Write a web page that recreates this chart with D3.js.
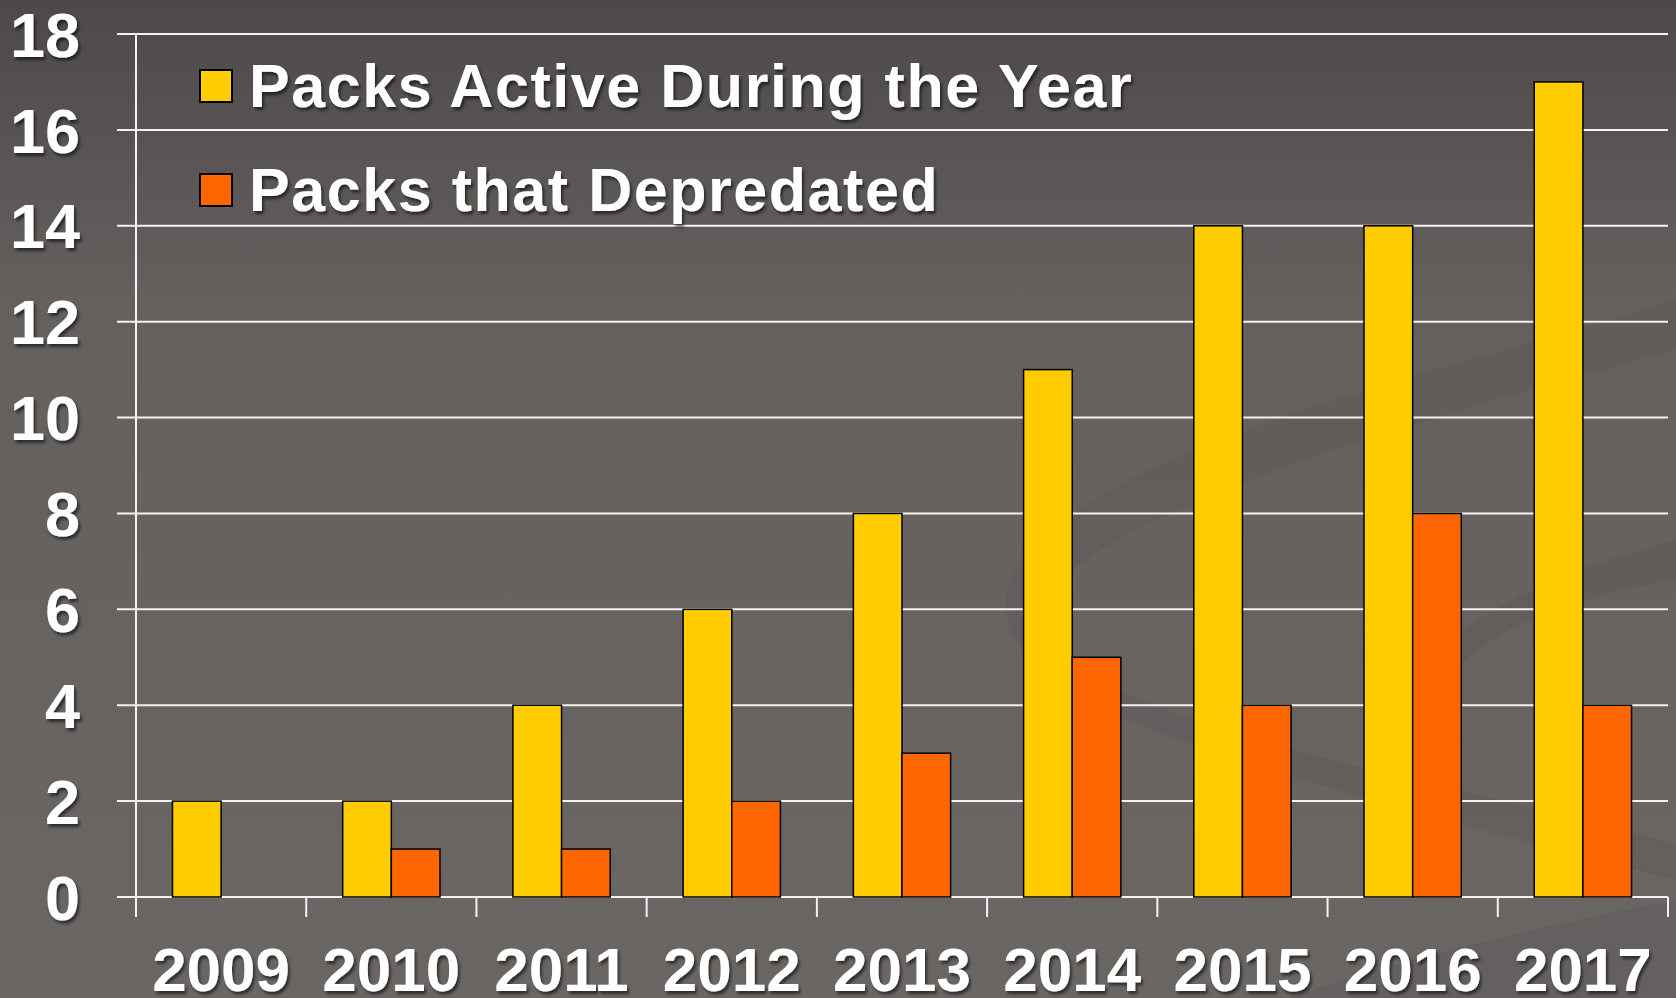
<!DOCTYPE html>
<html>
<head>
<meta charset="utf-8">
<script src="https://cdn.jsdelivr.net/npm/d3@7"></script>
<style>
	html, body { margin: 0; padding: 0; background: #5e5a59; overflow: hidden; }
	svg { display: block; }
	text { font-family: "Liberation Sans", Arial, sans-serif; font-weight: bold; fill: #fff; }
</style>
</head>
<body>
<svg width="1676" height="998"></svg>
<script>
var years = ["2009", "2010", "2011", "2012", "2013", "2014", "2015", "2016", "2017"];
var packsActive = [2, 2, 4, 6, 8, 11, 14, 14, 17];
var packsDepredated = [0, 1, 1, 2, 3, 5, 4, 8, 4];
var seriesNames = ["Packs Active During the Year", "Packs that Depredated"];
var yTicks = [0, 2, 4, 6, 8, 10, 12, 14, 16, 18];

var svg = d3.select("svg"),
    width = +svg.attr("width"),
    height = +svg.attr("height"),
    margin = {top: 34, right: 8, bottom: 101, left: 136};

var defs = svg.append("defs");

var bg = defs.append("linearGradient")
    .attr("id", "bg")
    .attr("x1", 0).attr("y1", 0).attr("x2", 0).attr("y2", 1);
bg.append("stop").attr("offset", "0%").attr("stop-color", "#4c4948");
bg.append("stop").attr("offset", "30%").attr("stop-color", "#64605e");
bg.append("stop").attr("offset", "100%").attr("stop-color", "#6a6664");

var shadow = defs.append("filter")
    .attr("id", "shadow")
    .attr("x", "-10%").attr("y", "-20%").attr("width", "130%").attr("height", "150%");
shadow.append("feDropShadow")
    .attr("dx", 2).attr("dy", 3)
    .attr("stdDeviation", 1.5)
    .attr("flood-color", "#000")
    .attr("flood-opacity", 0.55);

svg.append("rect")
    .attr("width", width)
    .attr("height", height)
    .attr("fill", "url(#bg)");

// faint swirl in the slide background
var swirl = svg.append("g").attr("fill", "#3a3636").attr("opacity", 0.1);
swirl.append("path")
    .attr("d", "M1676,300 C1450,370 1120,440 1020,560 C970,640 1060,700 1180,740 C1350,800 1560,850 1676,880 L1676,845 C1540,805 1330,765 1210,725 C1090,685 1010,640 1050,590 C1130,500 1450,410 1676,350 Z");
swirl.append("path")
    .attr("d", "M1676,540 C1560,570 1480,610 1440,650 L1460,665 C1500,625 1580,595 1676,580 Z");
swirl.append("path")
    .attr("d", "M1676,900 C1520,930 1380,965 1290,998 L1676,998 Z");

var x0 = d3.scaleBand()
    .domain(years)
    .range([margin.left, width - margin.right])
    .paddingInner(0)
    .paddingOuter(0);

var x1 = d3.scaleBand()
    .domain(seriesNames)
    .range([0, x0.bandwidth()])
    .paddingInner(0)
    .paddingOuter(0.75);

var y = d3.scaleLinear()
    .domain([0, 18])
    .range([height - margin.bottom, margin.top]);

var color = d3.scaleOrdinal()
    .domain(seriesNames)
    .range(["#ffcc00", "#ff6600"]);

// gridlines + y labels
svg.append("g")
    .attr("class", "grid")
    .selectAll("line")
    .data(yTicks)
    .enter().append("line")
      .attr("x1", margin.left - 19)
      .attr("x2", width - margin.right)
      .attr("y1", function(d) { return y(d); })
      .attr("y2", function(d) { return y(d); })
      .attr("stroke", "#f4f2f0")
      .attr("stroke-width", 2);

svg.append("g")
    .attr("filter", "url(#shadow)")
    .selectAll("text")
    .data(yTicks)
    .enter().append("text")
      .attr("x", 80)
      .attr("y", function(d) { return y(d); })
      .attr("dy", "0.36em")
      .attr("text-anchor", "end")
      .attr("font-size", 63)
      .text(function(d) { return d; });

// bars
var rows = years.map(function(yr, i) {
	return {year: yr, values: [
		{key: seriesNames[0], value: packsActive[i]},
		{key: seriesNames[1], value: packsDepredated[i]}
	]};
});

svg.append("g")
    .selectAll("g")
    .data(rows)
    .enter().append("g")
      .attr("transform", function(d) { return "translate(" + x0(d.year) + ",0)"; })
    .selectAll("rect")
    .data(function(d) { return d.values.filter(function(v) { return v.value > 0; }); })
    .enter().append("rect")
      .attr("x", function(d) { return x1(d.key); })
      .attr("y", function(d) { return y(d.value); })
      .attr("width", x1.bandwidth())
      .attr("height", function(d) { return y(0) - y(d.value); })
      .attr("fill", function(d) { return color(d.key); })
      .attr("stroke", "#000")
      .attr("stroke-width", 1.5);

// axes lines
svg.append("line")
    .attr("x1", margin.left).attr("x2", margin.left)
    .attr("y1", margin.top).attr("y2", y(0) + 20)
    .attr("stroke", "#f4f2f0").attr("stroke-width", 2);

var bounds = years.map(function(d) { return x0(d); }).concat([x0.range()[1]]);
svg.append("g")
    .selectAll("line")
    .data(bounds)
    .enter().append("line")
      .attr("x1", function(d) { return d; })
      .attr("x2", function(d) { return d; })
      .attr("y1", y(0))
      .attr("y2", y(0) + 20)
      .attr("stroke", "#f4f2f0")
      .attr("stroke-width", 2);

svg.append("g")
    .attr("filter", "url(#shadow)")
    .selectAll("text")
    .data(years)
    .enter().append("text")
      .attr("x", function(d) { return x0(d) + x0.bandwidth() / 2; })
      .attr("y", 991)
      .attr("text-anchor", "middle")
      .attr("font-size", 62)
      .text(function(d) { return d; });

// legend
var legend = svg.append("g")
    .selectAll("g")
    .data(seriesNames)
    .enter().append("g")
      .attr("transform", function(d, i) { return "translate(200," + (70 + i * 104) + ")"; });

legend.append("rect")
    .attr("width", 32)
    .attr("height", 32)
    .attr("fill", function(d) { return color(d); })
    .attr("stroke", "#000")
    .attr("stroke-width", 2);

legend.append("text")
    .attr("x", 49)
    .attr("y", 37)
    .attr("font-size", 61)
    .attr("letter-spacing", 1.55)
    .attr("filter", "url(#shadow)")
    .text(function(d) { return d; });
</script>
</body>
</html>
